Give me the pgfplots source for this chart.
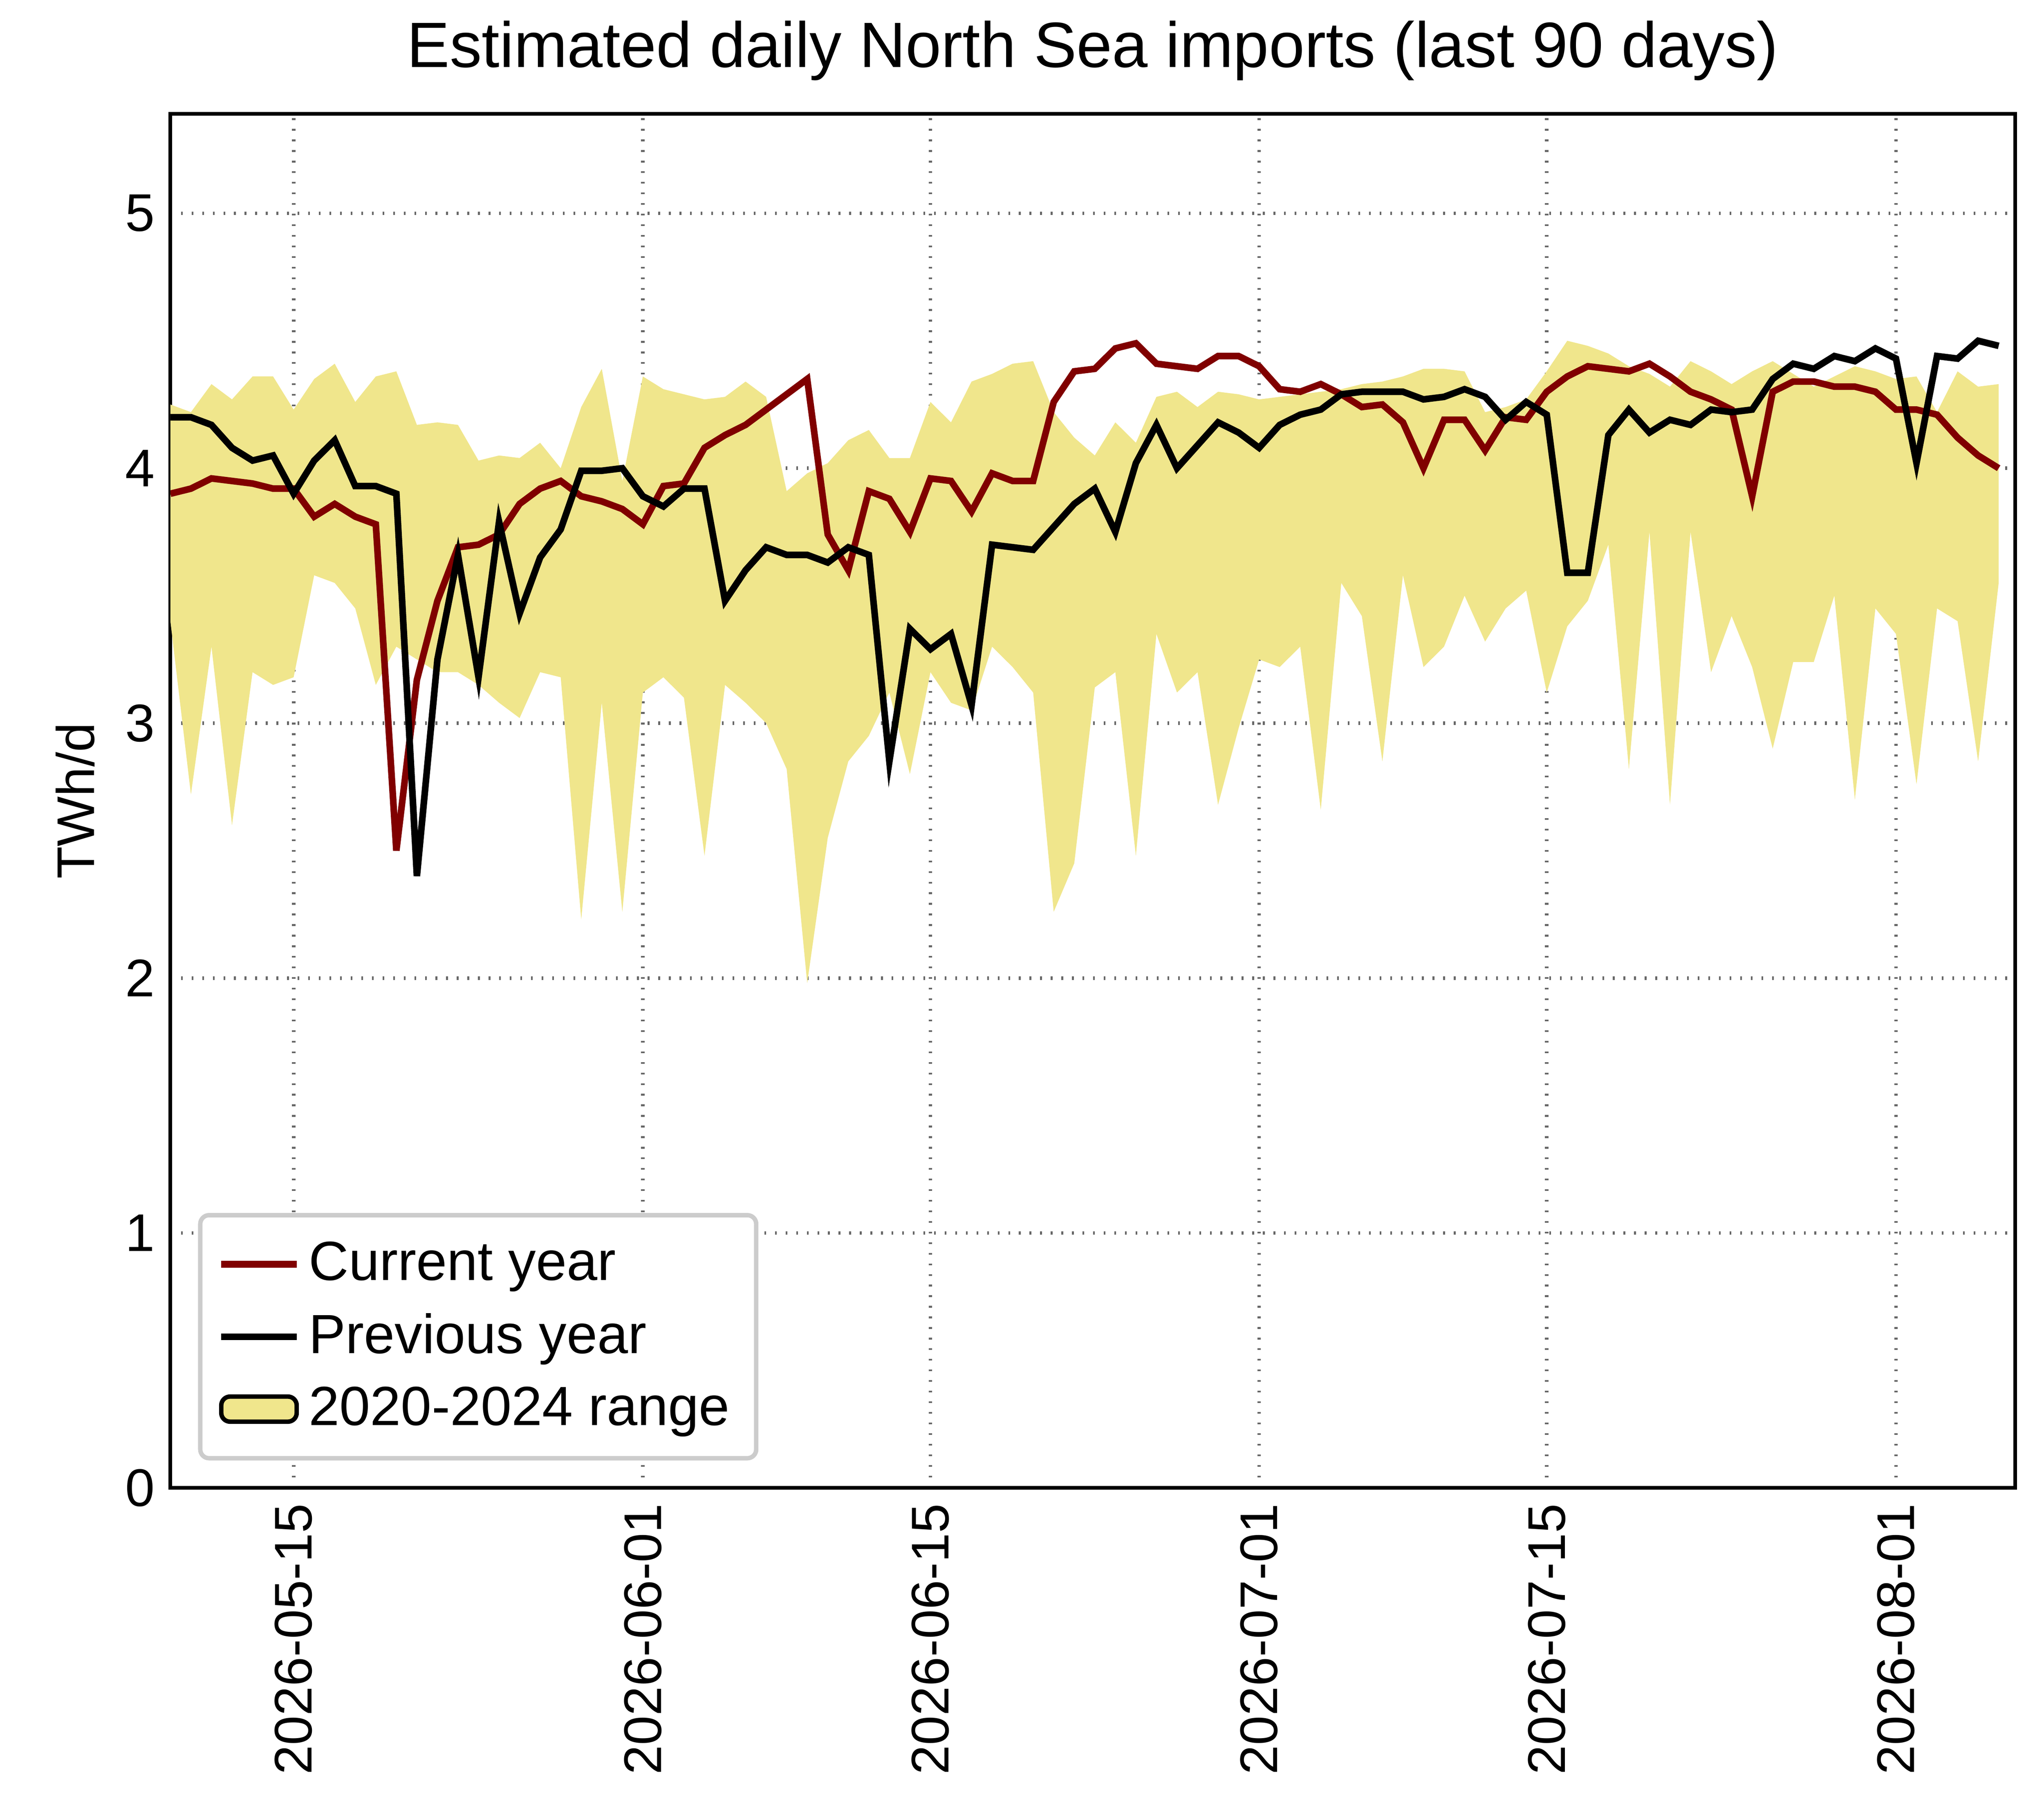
\documentclass[border=0pt]{standalone}
\usepackage{fontspec}
\setmainfont{Liberation Sans}
\usepackage{pgfplots}
\usepackage{pgfplotstable}
\pgfplotsset{compat=1.18}
\usepgfplotslibrary{fillbetween}
\usetikzlibrary{calc}
\definecolor{khaki}{HTML}{F0E68C}
\definecolor{maroon}{HTML}{800000}
\pgfplotstableread{
d cur prev up lo
-6 3.90 4.20 4.25 3.40
-5 3.92 4.20 4.22 2.72
-4 3.96 4.17 4.33 3.30
-3 3.95 4.08 4.27 2.60
-2 3.94 4.03 4.36 3.20
-1 3.92 4.05 4.36 3.15
0 3.92 3.90 4.23 3.18
1 3.81 4.03 4.35 3.58
2 3.86 4.11 4.41 3.55
3 3.81 3.93 4.26 3.45
4 3.78 3.93 4.36 3.15
5 2.50 3.90 4.38 3.30
6 3.17 2.40 4.17 3.25
7 3.48 3.25 4.18 3.20
8 3.69 3.66 4.17 3.20
9 3.70 3.18 4.03 3.15
10 3.74 3.79 4.05 3.08
11 3.86 3.43 4.04 3.02
12 3.92 3.65 4.10 3.20
13 3.95 3.76 4.00 3.18
14 3.89 3.99 4.24 2.23
15 3.87 3.99 4.39 3.08
16 3.84 4.00 3.95 2.26
17 3.78 3.89 4.36 3.12
18 3.93 3.85 4.31 3.18
19 3.94 3.92 4.29 3.10
20 4.08 3.92 4.27 2.48
21 4.13 3.48 4.28 3.15
22 4.17 3.60 4.34 3.08
23 4.23 3.69 4.28 3.00
24 4.29 3.66 3.91 2.82
25 4.35 3.66 3.98 1.98
26 3.74 3.63 4.02 2.55
27 3.60 3.69 4.11 2.85
28 3.91 3.66 4.15 2.95
29 3.88 2.85 4.04 3.12
30 3.75 3.37 4.04 2.80
31 3.96 3.29 4.26 3.20
32 3.95 3.35 4.18 3.08
33 3.83 3.07 4.34 3.05
34 3.98 3.70 4.37 3.30
35 3.95 3.69 4.41 3.22
36 3.95 3.68 4.42 3.12
37 4.26 3.77 4.22 2.26
38 4.38 3.86 4.12 2.45
39 4.39 3.92 4.05 3.14
40 4.47 3.75 4.18 3.20
41 4.49 4.02 4.10 2.48
42 4.41 4.17 4.28 3.35
43 4.40 4.00 4.30 3.12
44 4.39 4.09 4.24 3.20
45 4.44 4.18 4.30 2.68
46 4.44 4.14 4.29 2.98
47 4.40 4.08 4.27 3.25
48 4.31 4.17 4.28 3.22
49 4.30 4.21 4.29 3.30
50 4.33 4.23 4.30 2.66
51 4.29 4.29 4.31 3.55
52 4.24 4.30 4.33 3.42
53 4.25 4.30 4.34 2.85
54 4.18 4.30 4.36 3.58
55 4.00 4.27 4.39 3.22
56 4.19 4.28 4.39 3.30
57 4.19 4.31 4.38 3.50
58 4.07 4.28 4.22 3.32
59 4.20 4.19 4.24 3.45
60 4.19 4.26 4.27 3.52
61 4.30 4.21 4.38 3.12
62 4.36 3.59 4.50 3.38
63 4.40 3.59 4.48 3.48
64 4.39 4.13 4.45 3.70
65 4.38 4.23 4.40 2.82
66 4.41 4.14 4.37 3.75
67 4.36 4.19 4.32 2.68
68 4.30 4.17 4.42 3.75
69 4.27 4.23 4.38 3.20
70 4.23 4.22 4.33 3.42
71 3.89 4.23 4.38 3.22
72 4.30 4.35 4.42 2.90
73 4.34 4.41 4.37 3.24
74 4.34 4.39 4.32 3.24
75 4.32 4.44 4.36 3.50
76 4.32 4.42 4.40 2.70
77 4.30 4.47 4.38 3.45
78 4.23 4.43 4.35 3.35
79 4.23 4.02 4.36 2.76
80 4.21 4.44 4.22 3.45
81 4.12 4.43 4.38 3.40
82 4.05 4.50 4.32 2.85
83 4.00 4.48 4.33 3.55
}\data
\begin{document}
\begin{tikzpicture}
\begin{axis}[
  scale only axis, width=14.67cm, height=10.93cm,
  xmin=-6, xmax=83.8, ymin=0, ymax=5.39,
  xtick={0,17,31,47,61,78},
  xticklabels={2026-05-15,2026-06-01,2026-06-15,2026-07-01,2026-07-15,2026-08-01},
  x tick label style={rotate=90, anchor=east},
  ytick={0,1,2,3,4,5},
  /pgf/number format/assume math mode=true,
  tick label style={font=\fontsize{12}{14}\selectfont},
  tick style={draw=none},
  grid=major, major grid style={dotted, line width=0.8pt, gray!80!black},
  axis line style={line width=0.8pt},
  ylabel={TWh/d}, ylabel style={font=\fontsize{12}{14}\selectfont},
  title={Estimated daily North Sea imports (last 90 days)},
  title style={font=\fontsize{14.5}{17}\selectfont, yshift=-2pt},
  legend style={at={(0.015,0.02)}, anchor=south west, font=\fontsize{12.5}{15}\selectfont, draw=gray!40, line width=1pt, rounded corners=2pt, row sep=2pt, inner sep=4pt},
  legend cell align=left,
]
\addplot[name path=up, draw=none, forget plot] table[x=d,y=up]{\data};
\addplot[name path=lo, draw=none, forget plot] table[x=d,y=lo]{\data};
\addplot[fill=khaki, draw=none, forget plot] fill between[of=up and lo];
\addplot[maroon, line width=1.5pt] table[x=d,y=cur]{\data};
\addlegendentry{Current year}
\addplot[black, line width=1.5pt] table[x=d,y=prev]{\data};
\addlegendentry{Previous year}
\addlegendimage{area legend, fill=khaki, draw=none}
\addlegendentry{2020-2024 range}
\end{axis}
\pgfresetboundingbox
\path ($(current axis.south west)+(-1.355cm,-2.615cm)$) rectangle ($(current axis.north east)+(0.23cm,0.906cm)$);
\end{tikzpicture}
\end{document}
